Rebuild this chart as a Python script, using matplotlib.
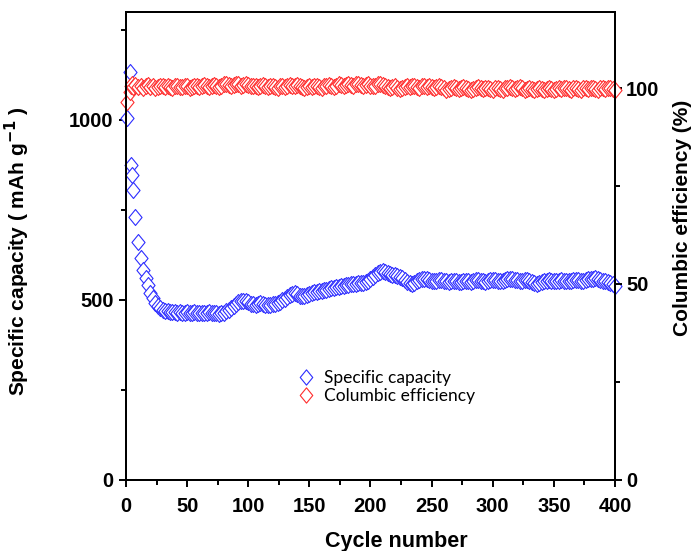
import matplotlib
matplotlib.use("Agg")
import matplotlib.pyplot as plt
from matplotlib.ticker import MultipleLocator
from matplotlib.path import Path

# ---------------- data ----------------
cycles = [1, 3, 4, 5, 6, 7, 10, 12, 14, 16, 18, 20, 22, 24, 26, 28, 30] + list(range(32, 401, 2))

capacity = [1005, 1133, 875, 847, 805, 731, 662, 616, 583, 561, 542, 520, 505, 492, 484, 478, 473,
            470, 468, 467, 466, 466,
            465, 466, 465, 464, 466,
            465, 464, 466, 465, 464,
            465, 463, 464, 466, 465,
            463, 464, 462, 463, 465,
            468, 472, 478, 484, 490,
            494, 497, 498, 496, 493,
            490, 488, 487, 489, 491,
            488, 486, 485, 487, 489,
            490, 492, 495, 499, 503,
            508, 513, 517, 519, 516,
            512, 510, 511, 514, 517,
            519, 521, 522, 524, 526,
            527, 529, 531, 532, 534,
            536, 537, 539, 540, 541,
            542, 543, 544, 545, 546,
            547, 548, 550, 553, 558,
            564, 570, 575, 579, 581,
            578, 574, 572, 570, 568,
            567, 565, 560, 555, 550,
            546, 544, 547, 552, 556,
            558, 559, 557, 555, 553,
            552, 553, 555, 556, 554,
            552, 551, 553, 554, 553,
            551, 550, 552, 554, 553,
            551, 553, 555, 556, 554,
            552, 551, 553, 555, 556,
            555, 553, 552, 554, 555,
            557, 558, 557, 556, 555,
            554, 553, 555, 556, 554,
            550, 546, 544, 547, 550,
            552, 554, 555, 553, 552,
            553, 554, 555, 554, 553,
            552, 553, 555, 556, 555,
            554, 553, 555, 557, 558,
            559, 560, 558, 556, 554,
            552, 550, 547, 543, 540]

efficiency = [96.5, 99.0, 100.5, 101.0, 100.2, 100.8, 100.3, 100.6, 100.1, 100.4, 100.7, 100.2, 100.5, 100.0, 100.3, 100.6, 100.4,
              100.2, 100.5, 100.3, 100.1, 100.4,
              100.6, 100.3, 100.2, 100.5, 100.4,
              100.1, 100.3, 100.6, 100.4, 100.2,
              100.5, 100.7, 100.4, 100.3, 100.6,
              100.8, 100.5, 100.3, 100.6, 100.9,
              101.0, 100.7, 100.5, 100.8, 101.1,
              100.9, 100.6, 100.8, 101.0, 100.7,
              100.5, 100.4, 100.6, 100.3, 100.5,
              100.7, 100.4, 100.2, 100.5, 100.6,
              100.3, 100.1, 100.4, 100.6, 100.3,
              100.5, 100.8, 100.6, 100.4, 100.7,
              100.5, 100.2, 100.0, 100.3, 100.5,
              100.2, 100.4, 100.6, 100.3, 100.1,
              100.4, 100.6, 100.8, 100.5, 100.3,
              100.6, 100.9, 100.7, 100.5, 100.8,
              101.0, 100.8, 100.6, 100.9, 101.1,
              100.8, 100.5, 100.7, 100.9, 100.6,
              100.4, 100.6, 100.9, 101.1, 100.8,
              100.5, 100.2, 99.9, 100.2, 100.4,
              100.1, 99.8, 100.0, 100.3, 100.5,
              100.2, 100.4, 100.6, 100.3, 100.1,
              100.4, 100.6, 100.3, 100.5, 100.2,
              100.0, 100.3, 100.5, 100.2, 99.9,
              99.6, 99.8, 100.1, 100.3, 100.0,
              99.8, 100.1, 100.3, 100.0, 99.7,
              99.5, 99.8, 100.0, 100.2, 99.9,
              99.7, 99.9, 100.1, 99.8, 99.6,
              99.9, 100.1, 99.8, 99.6, 99.9,
              100.1, 100.3, 100.0, 99.8, 100.1,
              100.2, 99.9, 99.6, 99.8, 100.0,
              99.7, 99.5, 99.8, 100.0, 99.7,
              99.5, 99.8, 100.0, 99.7, 99.5,
              99.8, 100.0, 99.7, 99.9, 100.1,
              99.8, 99.6, 99.9, 100.1, 99.8,
              99.6, 99.9, 100.0, 99.7, 99.9,
              100.1, 99.8, 99.6, 99.9, 100.0,
              99.7, 99.9, 100.1, 99.8, 99.5]

xticks = [0, 50, 100, 150, 200, 250, 300, 350, 400]
left_ticks = [0, 500, 1000]
right_ticks = [0, 50, 100]

# ---------------- plot ----------------
plt.rcParams['font.family'] = ['Liberation Sans', 'DejaVu Sans']
tick_size = 14.5

fig = plt.figure(figsize=(6.91, 5.51), dpi=100)
ax = fig.add_axes([0.1823, 0.1289, 0.7077, 0.8494])
ax2 = ax.twinx()

# slightly tall diamond marker
diamond = Path([(0, 1), (0.82, 0), (0, -1), (-0.82, 0), (0, 1)],
               [Path.MOVETO, Path.LINETO, Path.LINETO, Path.LINETO, Path.CLOSEPOLY])
ms = 11.5
mew = 0.8
l1, = ax.plot(cycles, capacity, linestyle='none', marker=diamond, markersize=ms,
              markerfacecolor='white', markeredgecolor='#2d2dff', markeredgewidth=mew,
              clip_on=False, label='Specific capacity')
l2, = ax2.plot(cycles, efficiency, linestyle='none', marker=diamond, markersize=ms,
               markerfacecolor='white', markeredgecolor='#ff2d2d', markeredgewidth=mew,
               clip_on=False, label='Columbic efficiency')

ax.set_xlim(0, 400)
ax.set_ylim(0, 1300)
ax2.set_ylim(0, 119.4)

ax.set_xticks(xticks)
ax.set_yticks(left_ticks)
ax2.set_yticks(right_ticks)
ax.xaxis.set_minor_locator(MultipleLocator(25))
ax.yaxis.set_minor_locator(MultipleLocator(250))
ax2.yaxis.set_minor_locator(MultipleLocator(25))

for a in (ax, ax2):
    for s in a.spines.values():
        s.set_linewidth(1.4)
    a.tick_params(which='major', direction='out', length=5, width=1.4, labelsize=tick_size)
    a.tick_params(which='minor', direction='out', length=3.5, width=1.4)
ax.tick_params(axis='x', pad=7)
ax.tick_params(axis='y', pad=4)
ax2.tick_params(axis='y', pad=3)

for lab in ax.get_xticklabels() + ax.get_yticklabels() + ax2.get_yticklabels():
    lab.set_fontweight('bold')

ax.set_xlabel('Cycle number', fontsize=15.5, fontweight='bold')
ax.xaxis.set_label_coords(0.552, -0.108)
ax.set_ylabel('Specific capacity ( mAh g$^{\\mathbf{-1}}$ )', fontsize=15, fontweight='bold')
ax.yaxis.set_label_coords(-0.192, 0.49)
ax2.set_ylabel('Columbic efficiency (%)', fontsize=15, fontweight='bold', rotation=90)
ax2.yaxis.set_label_coords(1.118, 0.56)

leg = ax2.legend(handles=[l1, l2], loc='upper left', bbox_to_anchor=(0.318, 0.268),
                 frameon=False, handlelength=1.0, handletextpad=0.55, labelspacing=0.12,
                 prop={'family': ['Lato', 'DejaVu Sans'], 'size': 12.5})
for h in leg.legend_handles:
    h.set_markersize(11)

fig.savefig('out.png', dpi=100)
